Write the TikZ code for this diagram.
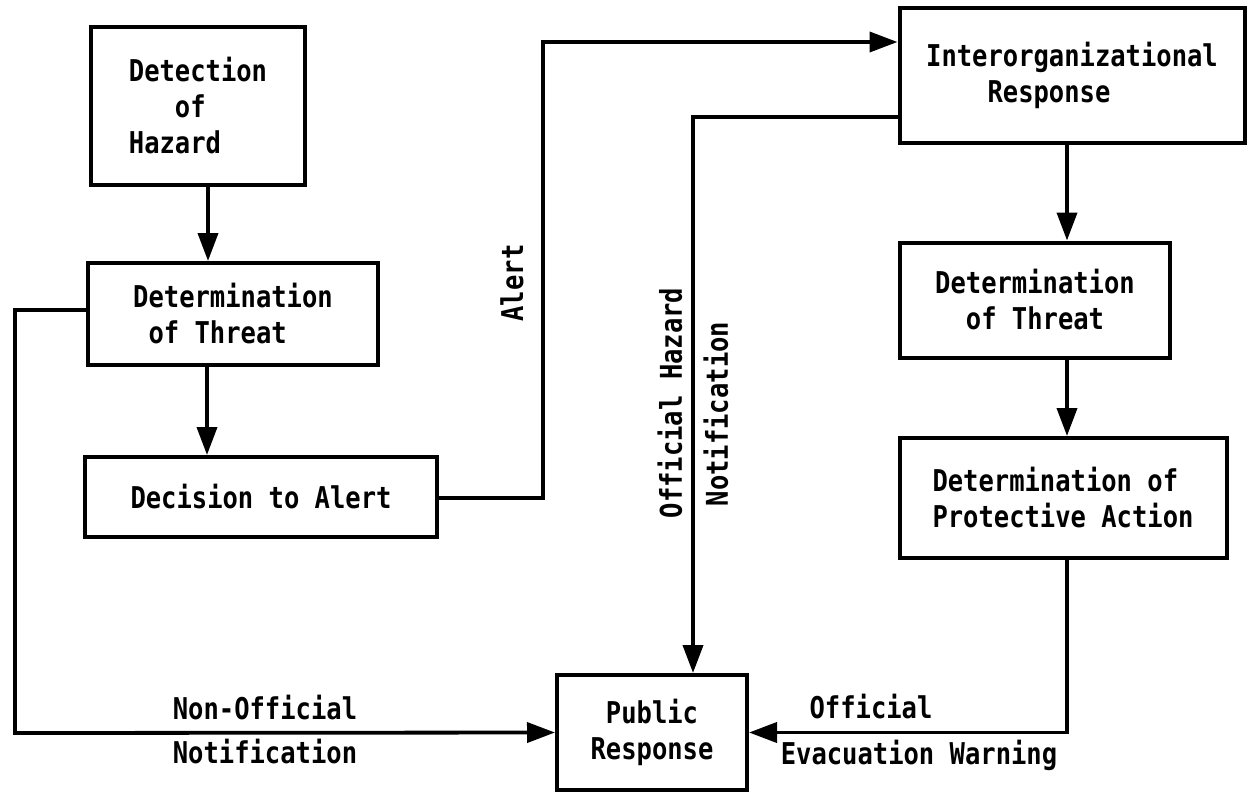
\documentclass[tikz,border=0pt]{standalone}
\usepackage{fontspec}
\newfontfamily\tw[FakeStretch=0.85]{DejaVu Sans Mono}
\usetikzlibrary{arrows.meta}
\tikzset{
  box/.style={draw, line width=4pt, rectangle, inner sep=0pt, font=\tw\bfseries\fontsize{30}{36}\selectfont},
  conn/.style={line width=3.8pt, line join=miter},
  arr/.style={conn, -{Triangle[length=28pt,width=20pt]}},
  lbl/.style={inner sep=0pt, font=\tw\bfseries\fontsize{30}{36}\selectfont},
}
\begin{document}
\begin{tikzpicture}[x=1pt,y=-1pt]
\useasboundingbox (0,0) rectangle (1248,793);
\node[box, minimum width=214pt, minimum height=158pt, align=left] (det) at (198,106) {Detection\\\ \ \ of\\Hazard};
\node[box, minimum width=290pt, minimum height=102pt, align=left] (thr1) at (233,314) {Determination\\\ of Threat};
\node[box, minimum width=352pt, minimum height=80pt] (dec) at (261,497) {Decision to Alert};
\node[box, minimum width=345pt, minimum height=135pt, align=left] (io) at (1072,75.5) {Interorganizational\\\ \ \ \ Response};
\node[box, minimum width=270pt, minimum height=115pt, align=center] (thr2) at (1035,300) {Determination\\of Threat};
\node[box, minimum width=327pt, minimum height=120pt, align=left] (pa) at (1063,498) {Determination of\\Protective Action};
\node[box, minimum width=190pt, minimum height=115pt, align=center] (pub) at (652,732.5) {Public\\Response};

\coordinate (nl1) at (15,310);
\coordinate (nl2) at (15,733);
\coordinate (al1) at (543,498);
\coordinate (al2) at (543,42);
\coordinate (oh1) at (693,117);
\coordinate (ev1) at (1067,732.5);

\draw[arr] (det.south -| 208,0) -- (thr1.north -| 208,0);
\draw[arr] (thr1.south -| 207,0) -- (dec.north -| 207,0);
\draw[arr] (thr1.west |- nl1) -- (nl1) -- (nl2) -- (pub.west);
\draw[arr] (dec.east |- al1) -- (al1) -- (al2) -- (io.west |- al2);
\draw[arr] (io.west |- oh1) -- (oh1) -- (pub.north -| oh1);
\draw[arr] (io.south -| 1067,0) -- (thr2.north -| 1067,0);
\draw[arr] (thr2.south -| 1067,0) -- (pa.north -| 1067,0);
\draw[arr] (pa.south -| ev1) -- (ev1) -- (pub.east);

\node[lbl] (l1) at (265,708) {Non-Official};
\node[lbl] (l2) at (265,752) {Notification};
\node[lbl] (l3) at (871,707) {Official};
\node[lbl] (l4) at (919,755) {Evacuation Warning};
\node[lbl, rotate=90] (l5) at (512,283) {Alert};
\node[lbl, rotate=90] (l6) at (670,403) {Official Hazard};
\node[lbl, rotate=90] (l7) at (716,414) {Notification};
\end{tikzpicture}
\end{document}
